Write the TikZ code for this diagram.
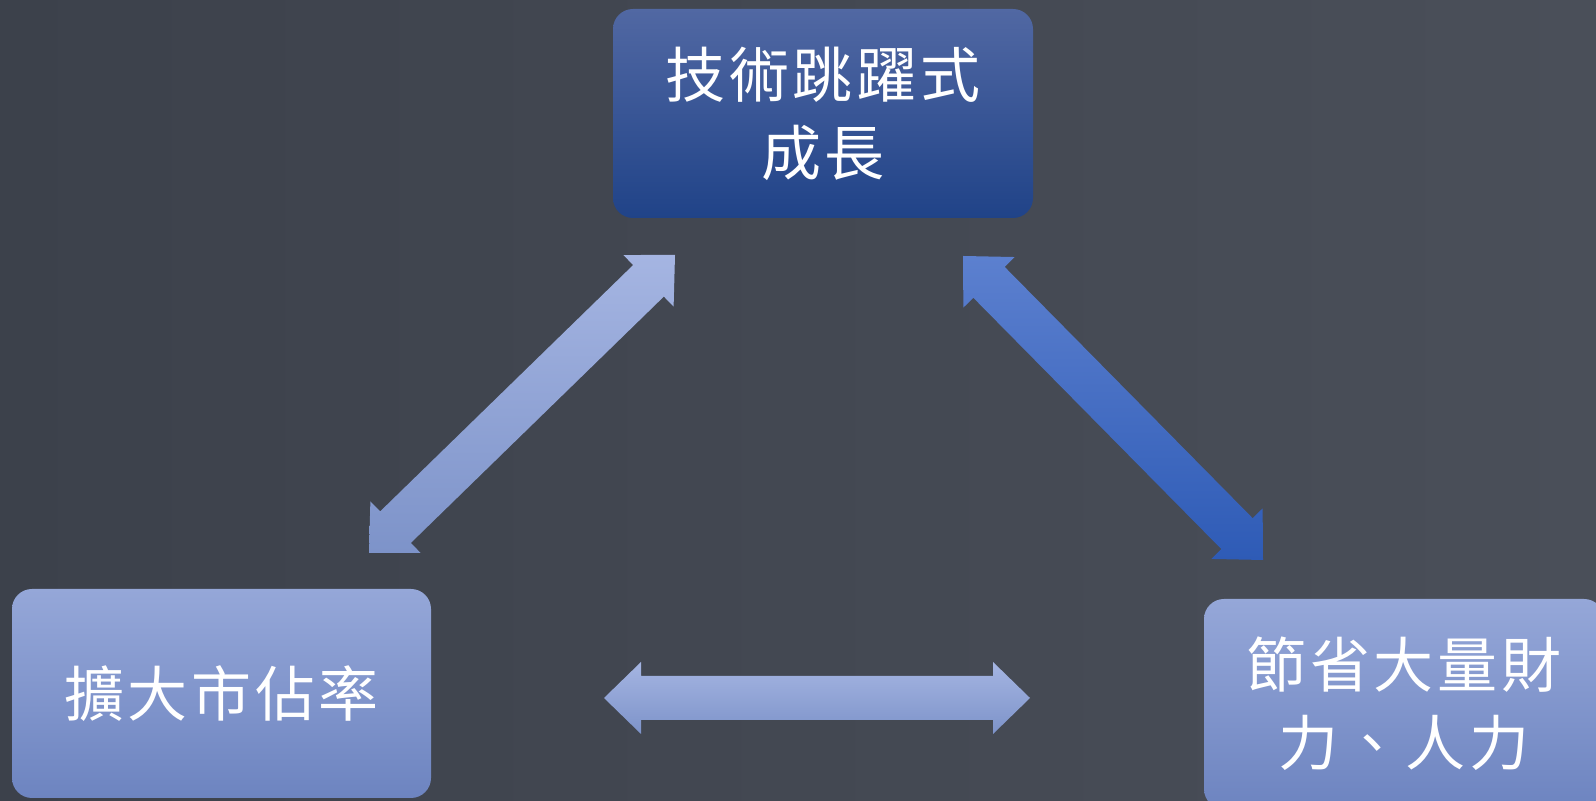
\documentclass[tikz,border=0pt]{standalone}
\usepackage{fontspec}
\usetikzlibrary{calc}
\newfontfamily\cjk[LetterSpace=6]{Noto Sans CJK TC}
\definecolor{Board}{HTML}{3C414B}
\definecolor{BoardLight}{HTML}{4A4F59}
\definecolor{DeepTop}{HTML}{5168A3}
\definecolor{DeepBottom}{HTML}{204388}
\definecolor{PaleTop}{HTML}{95A7D8}
\definecolor{PaleBottom}{HTML}{6D84C0}
\definecolor{ArrowPaleTop}{HTML}{A5B5E2}
\definecolor{ArrowPaleBottom}{HTML}{7D93C9}
\definecolor{ArrowBlueTop}{HTML}{5C80CF}
\definecolor{ArrowBlueBottom}{HTML}{2E5BB6}

% double headed block arrow between two named coordinates
\newcommand{\blockarrow}[3]{%
  \coordinate (#1h) at ($(#1)!18.5pt!(#2)$);
  \coordinate (#2h) at ($(#2)!18.5pt!(#1)$);
  \shade[#3] (#1) -- ($(#1h)!18pt!90:(#2)$) -- ($(#1h)!11pt!90:(#2)$)
    -- ($(#2h)!11pt!-90:(#1)$) -- ($(#2h)!18pt!-90:(#1)$) -- (#2)
    -- ($(#2h)!18pt!90:(#1)$) -- ($(#2h)!11pt!90:(#1)$)
    -- ($(#1h)!11pt!-90:(#2)$) -- ($(#1h)!18pt!-90:(#2)$) -- cycle;
}

\begin{document}
\begin{tikzpicture}[x=0.5pt, y=0.5pt,
  box/.style = {rounded corners=10pt, inner sep=0pt, align=center, text=white,
    font=\cjk\fontsize{30pt}{39pt}\selectfont},
  deep/.style = {box, top color=DeepTop, bottom color=DeepBottom},
  pale/.style = {box, top color=PaleTop, bottom color=PaleBottom},
  palearrow/.style = {top color=ArrowPaleTop, bottom color=ArrowPaleBottom},
  bluearrow/.style = {top color=ArrowBlueTop, bottom color=ArrowBlueBottom}]
  \useasboundingbox (0,0) rectangle (1596,801);
  \clip (0,0) rectangle (1596,801);
  \shade[left color=Board, right color=BoardLight] (0,0) rectangle (1596,801);

  \node[deep, minimum width=210pt, minimum height=104.5pt] (tech) at (823,687.5) {技術跳躍式\\成長};
  \node[pale, minimum width=209.5pt, minimum height=104.5pt] (market) at (221.5,107.5) {擴大市佔率};
  \node[pale, minimum width=200pt, minimum height=105pt] (save) at (1404,97) {節省大量財\\力、人力};

  \coordinate (l1) at (675,546);
  \coordinate (l2) at (369,248);
  \coordinate (r1) at (963,545);
  \coordinate (r2) at (1263,241);
  \coordinate (b1) at (604,103);
  \coordinate (b2) at (1030,103);
  \blockarrow{l1}{l2}{palearrow}
  \blockarrow{r1}{r2}{bluearrow}
  \blockarrow{b1}{b2}{palearrow}
\end{tikzpicture}
\end{document}
